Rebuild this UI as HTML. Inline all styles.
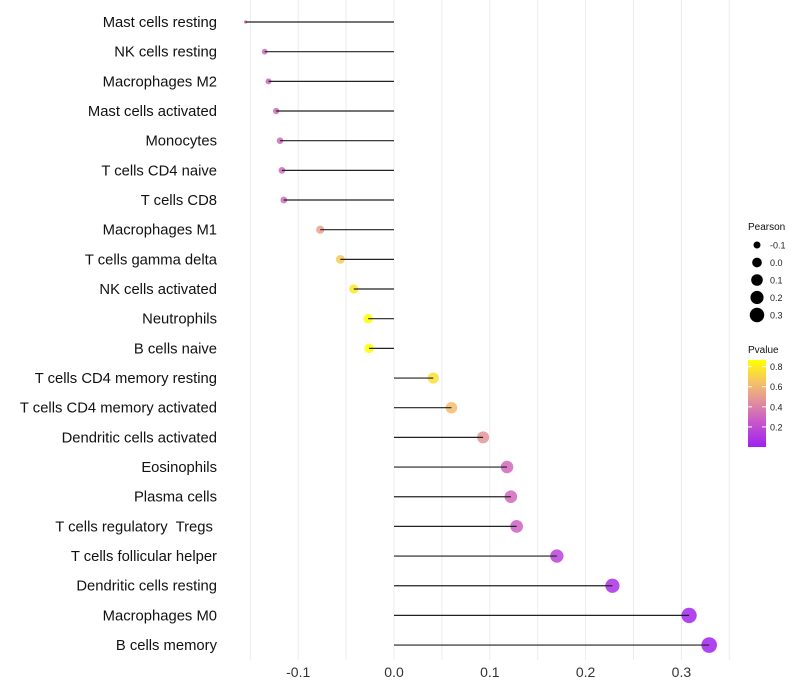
<!DOCTYPE html>
<html><head><meta charset="utf-8"><style>
body{margin:0;background:#fff;font-family:"Liberation Sans",sans-serif}
svg{display:block}
text{white-space:pre}
</style></head><body>
<svg id="chart" width="800" height="700"></svg>
<script>
const categories=["Mast cells resting","NK cells resting","Macrophages M2","Mast cells activated","Monocytes","T cells CD4 naive","T cells CD8","Macrophages M1","T cells gamma delta","NK cells activated","Neutrophils","B cells naive","T cells CD4 memory resting","T cells CD4 memory activated","Dendritic cells activated","Eosinophils","Plasma cells","T cells regulatory  Tregs ","T cells follicular helper","Dendritic cells resting","Macrophages M0","B cells memory"];
const pearson=[-0.155,-0.135,-0.131,-0.123,-0.119,-0.117,-0.115,-0.077,-0.056,-0.042,-0.027,-0.026,0.041,0.060,0.093,0.118,0.122,0.128,0.170,0.228,0.308,0.329];
const pvalues=[0.3,0.3,0.3,0.3,0.3,0.3,0.3,0.5,0.65,0.75,0.83,0.83,0.72,0.6,0.45,0.3,0.3,0.27,0.15,0.07,0.02,0.01];
const xTicks=[-0.1,0,0.1,0.2,0.3];
const xTickLabels=["-0.1","0.0","0.1","0.2","0.3"];
const sizeLegend=[-0.1,0,0.1,0.2,0.3];
const colorLegend=[0.8,0.6,0.4,0.2];

const NS="http://www.w3.org/2000/svg";
const svg=document.getElementById('chart');
const x=v=>394+v*958;
const y=i=>22+i*29.67;
const rad=v=>1.6+6.2*Math.sqrt(Math.max(0,v+0.155)/0.484);
const stops=[[0,[160,32,240]],[0.3,[200,90,200]],[0.55,[230,150,150]],[0.75,[245,195,100]],[1,[255,255,0]]];
function col(p){const t=Math.min(1,Math.max(0,p/0.83));for(let k=1;k<stops.length;k++){if(t<=stops[k][0]){const a=stops[k-1],b=stops[k];const f=(t-a[0])/(b[0]-a[0]);const c=a[1].map((v,j)=>Math.round(v+(b[1][j]-v)*f));return `rgb(${c})`;}}return 'rgb(255,255,0)';}
function mk(tag,at,parent){const e=document.createElementNS(NS,tag);for(const k in at)e.setAttribute(k,at[k]);(parent||svg).appendChild(e);return e;}

const gridVals=[-0.15,-0.1,-0.05,0,0.05,0.1,0.15,0.2,0.25,0.3,0.35];
gridVals.forEach(g=>{const l=mk('line',{x1:x(g),x2:x(g),y1:0,y2:660,stroke:'#ececec','stroke-width':1});

});
xTicks.forEach((t,i)=>{const tx=mk('text',{x:x(t),y:677,'text-anchor':'middle','font-size':14,fill:'#333'});tx.textContent=xTickLabels[i];

});
categories.forEach((c,i)=>{
const tx=mk('text',{x:217,y:y(i)+5,'text-anchor':'end','font-size':14.8,fill:'#111'});tx.textContent=c;


const ci=mk('circle',{cx:x(pearson[i]),cy:y(i),r:rad(pearson[i]),fill:col(pvalues[i]),'fill-opacity':0.85});


const l=mk('line',{x1:x(0),x2:x(pearson[i]),y1:y(i),y2:y(i),stroke:'#222','stroke-width':1.2});


});
let t=mk('text',{x:748,y:230,'font-size':10,fill:'#111'});t.textContent='Pearson';


sizeLegend.forEach((v,i)=>{const cy=245+i*17.5;
const c=mk('circle',{cx:757,cy:cy,r:rad(v)*0.95,fill:'#000'});


const tx=mk('text',{x:770,y:cy+3.5,'font-size':9,fill:'#222'});tx.textContent=v===0?'0.0':String(v);

});
t=mk('text',{x:748,y:353,'font-size':10,fill:'#111'});t.textContent='Pvalue';


const defs=mk('defs',{});const lg=mk('linearGradient',{id:'pg',x1:0,y1:1,x2:0,y2:0},defs);
stops.forEach(s=>mk('stop',{offset:s[0],'stop-color':`rgb(${s[1]})`},lg));
const bar=mk('rect',{x:748,y:360,width:18,height:87,fill:'url(#pg)'});


colorLegend.forEach(v=>{const cy=447-v*100.5;
mk('line',{x1:748,x2:752,y1:cy,y2:cy,stroke:'#fff'});mk('line',{x1:762,x2:766,y1:cy,y2:cy,stroke:'#fff'});
const tx=mk('text',{x:770,y:cy+3.5,'font-size':9,fill:'#222'});tx.textContent=v.toFixed(1);

});
</script>
</body></html>
